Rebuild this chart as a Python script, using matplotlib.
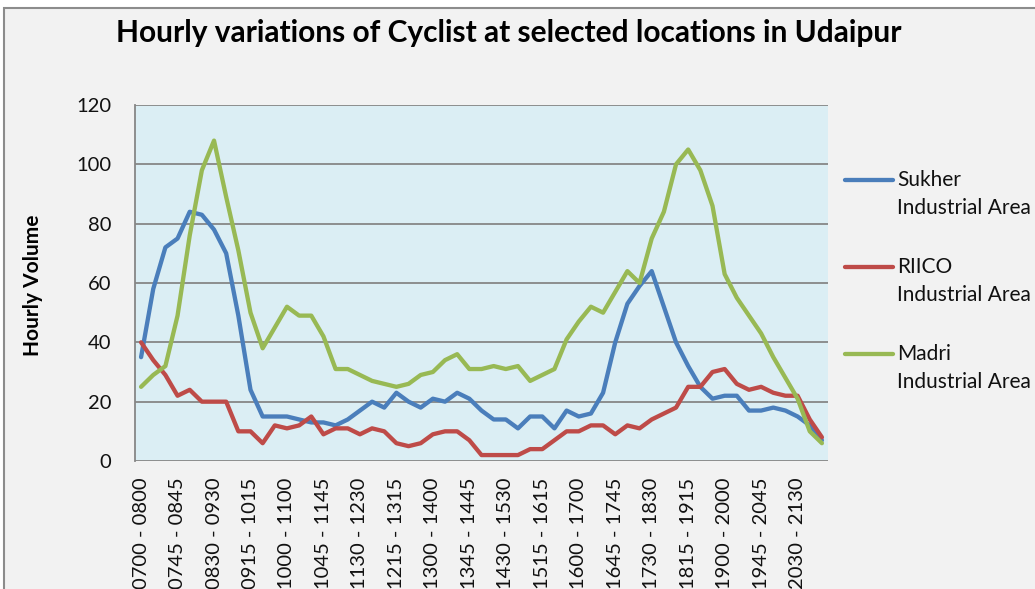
import numpy as np
import matplotlib.pyplot as plt
from matplotlib.lines import Line2D
from matplotlib.patches import Rectangle

# 15-minute steps, each a one-hour window, 0700-0800 ... 2100-2200
starts = [7 * 60 + 15 * k for k in range(57)]
intervals = [f"{s // 60:02d}{s % 60:02d} - {(s + 60) // 60:02d}{(s + 60) % 60:02d}" for s in starts]

sukher = [35, 58, 72, 75, 84, 83, 78, 70, 49, 24, 15, 15, 15, 14, 13, 13, 12, 14, 17, 20,
          18, 23, 20, 18, 21, 20, 23, 21, 17, 14, 14, 11, 15, 15, 11, 17, 15, 16, 23, 40,
          53, 59, 64, 52, 40, 32, 25, 21, 22, 22, 17, 17, 18, 17, 15, 12, 7]
riico = [40, 34, 29, 22, 24, 20, 20, 20, 10, 10, 6, 12, 11, 12, 15, 9, 11, 11, 9, 11,
         10, 6, 5, 6, 9, 10, 10, 7, 2, 2, 2, 2, 4, 4, 7, 10, 10, 12, 12, 9,
         12, 11, 14, 16, 18, 25, 25, 30, 31, 26, 24, 25, 23, 22, 22, 14, 8]
madri = [25, 29, 32, 49, 76, 98, 108, 89, 71, 50, 38, 45, 52, 49, 49, 42, 31, 31, 29, 27,
         26, 25, 26, 29, 30, 34, 36, 31, 31, 32, 31, 32, 27, 29, 31, 41, 47, 52, 50, 57,
         64, 60, 75, 84, 100, 105, 98, 86, 63, 55, 49, 43, 35, 28, 21, 10, 6]

series = [("Sukher\nIndustrial Area", sukher, "#4a7ebb"),
          ("RIICO\nIndustrial Area", riico, "#be4b48"),
          ("Madri\nIndustrial Area", madri, "#98b954")]

W, H = 1035, 589
plt.rcParams['font.family'] = ['Lato', 'DejaVu Sans']
fig = plt.figure(figsize=(W / 100, H / 100), dpi=100, facecolor="white")

# chart area frame
fig.add_artist(Rectangle((4 / W, -0.1), 1.2, 1.1 - 8 / H, transform=fig.transFigure,
                         facecolor="#f2f2f2", edgecolor="#8c8c8c", lw=1.5, zorder=-10))

ax = fig.add_axes([135 / W, 128 / H, 693 / W, 356 / H])
ax.set_facecolor("#dbeef4")
x = np.arange(len(intervals))
for label, vals, col in series:
    ax.plot(x, vals, color=col, lw=3.1, solid_capstyle="round", solid_joinstyle="round")

ax.set_xlim(-0.5, len(intervals) - 0.5)
ax.set_ylim(0, 120)
ax.set_yticks(range(0, 121, 20))
ax.grid(axis="y", color="#868686", lw=1.3)
ax.set_axisbelow(True)
ax.set_xticks(x[::3])
ax.set_xticklabels(intervals[::3], rotation=90, fontsize=14.5, color="#111111")
ax.tick_params(axis="x", length=0, pad=12)
ax.tick_params(axis="y", length=0, pad=17, labelsize=14.5, labelcolor="#111111")
for side in ["top", "right", "bottom"]:
    ax.spines[side].set_visible(False)
ax.spines["left"].set_color("#868686")
ax.spines["left"].set_linewidth(1.3)

ax.set_ylabel("Hourly Volume", fontsize=15, fontweight="bold", va="center")
ax.yaxis.set_label_coords(-0.147, 0.494)

fig.text(509 / W, 1 - 33 / H, "Hourly variations of Cyclist at selected locations in Udaipur",
         ha="center", va="center", fontsize=21.5, fontweight="bold")

# legend
for k, (label, vals, col) in enumerate(series):
    y0 = 1 - (180 + 87 * k) / H
    fig.add_artist(Line2D([845 / W, 893 / W], [y0, y0], transform=fig.transFigure,
                          color=col, lw=3.1, solid_capstyle="round"))
    fig.text(897 / W, y0 + 10 / H, label, ha="left", va="top", fontsize=15, linespacing=1.5,
             color="#111111")

fig.savefig("out.png", dpi=100, facecolor=fig.get_facecolor())
